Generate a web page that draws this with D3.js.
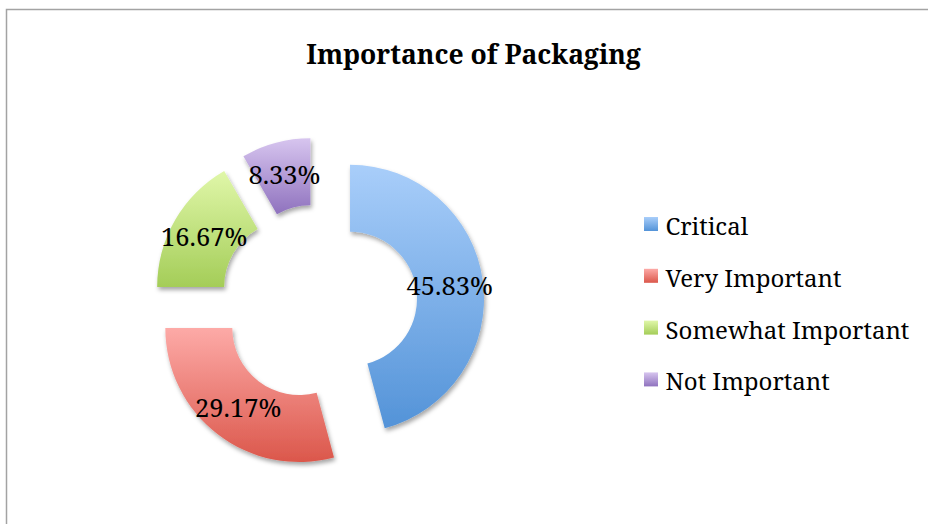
<!DOCTYPE html>
<html><head><meta charset="utf-8">
<script src="https://cdn.jsdelivr.net/npm/d3@7"></script>
<style>
  body { margin: 0; background: #fff; }
  text { font-family: "Noto Serif", "Liberation Serif", serif; fill: #000; }
</style>
</head><body>
<svg id="chart" width="928" height="524"></svg>
<script>
// Survey shares, in percent
const categories = ["Critical", "Very Important", "Somewhat Important", "Not Important"];
const shares = [45.83, 29.17, 16.67, 8.33];
const title = "Importance of Packaging";

// Gradient fill per slice: light at top, deeper at bottom
const topColors = ["#a9cefa", "#fdaaa7", "#e0f7a9", "#d7c5ef"];
const bottomColors = ["#5393d8", "#db574b", "#a4cd58", "#8f72be"];

const W = 928, H = 524;
const svg = d3.select("#chart");
const defs = svg.append("defs");

categories.forEach((c, i) => {
  const g = defs.append("linearGradient")
    .attr("id", "grad" + i)
    .attr("x1", 0).attr("y1", 0).attr("x2", 0).attr("y2", 1);
  g.append("stop").attr("offset", "0%").attr("stop-color", topColors[i]);
  g.append("stop").attr("offset", "100%").attr("stop-color", bottomColors[i]);
});

const shadow = defs.append("filter").attr("id", "shadow")
  .attr("x", "-20%").attr("y", "-20%").attr("width", "140%").attr("height", "140%");
shadow.append("feDropShadow")
  .attr("dx", 1.5).attr("dy", 3).attr("stdDeviation", 2.2)
  .attr("flood-color", "#000").attr("flood-opacity", 0.35);

// Chart frame
svg.append("rect")
  .attr("x", 6.5).attr("y", 9.5)
  .attr("width", 1000).attr("height", 1000)
  .attr("fill", "none").attr("stroke", "#a3a3a3").attr("stroke-width", 1.5);

// Title
svg.append("text")
  .attr("x", 473.5).attr("y", 64)
  .attr("text-anchor", "middle")
  .style("font-weight", "bold").style("font-size", "26.5px")
  .text(title);

// Exploded doughnut
const cx = 318.6, cy = 302.9;
const outerR = 134, innerR = 67, explode = 31.7;

const pie = d3.pie().sort(null).value(d => d)
  .startAngle(0).endAngle(2 * Math.PI);
const arcs = pie(shares);
const arc = d3.arc().innerRadius(innerR).outerRadius(outerR);

const slices = svg.append("g").attr("transform", `translate(${cx},${cy})`);

const sliceG = slices.selectAll("g.slice")
  .data(arcs)
  .join("g")
  .attr("class", "slice")
  .attr("transform", d => {
    const mid = (d.startAngle + d.endAngle) / 2;
    return `translate(${explode * Math.sin(mid)},${-explode * Math.cos(mid)})`;
  });

sliceG.append("path")
  .attr("d", arc)
  .attr("fill", (d, i) => `url(#grad${i})`)
  .attr("filter", "url(#shadow)");

sliceG.append("text")
  .attr("transform", d => `translate(${arc.centroid(d)})`)
  .attr("text-anchor", "middle")
  .attr("dy", "0.36em")
  .style("font-size", "25.5px")
  .text(d => d.data.toFixed(2) + "%");

// Legend
const legend = svg.append("g").attr("transform", "translate(644,235)");
const rowGap = 51.8;
const item = legend.selectAll("g.item")
  .data(categories)
  .join("g")
  .attr("class", "item")
  .attr("transform", (d, i) => `translate(0,${i * rowGap})`);

item.append("rect")
  .attr("x", 0).attr("y", -18)
  .attr("width", 14).attr("height", 14)
  .attr("fill", (d, i) => `url(#grad${i})`);

item.append("text")
  .attr("x", 21.5).attr("y", 0)
  .style("font-size", "24px")
  .text(d => d);
</script></body></html>
